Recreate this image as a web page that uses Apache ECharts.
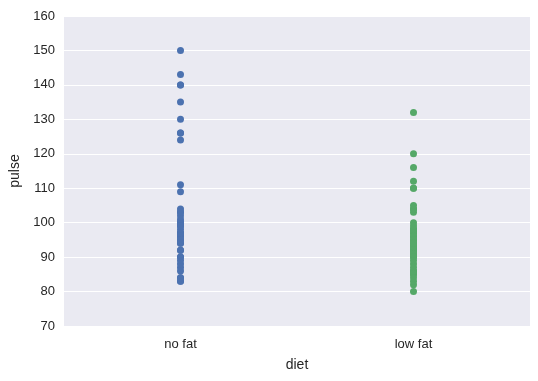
<!DOCTYPE html>
<html>
<head>
<meta charset="utf-8">
<script src="https://cdn.jsdelivr.net/npm/echarts@6/dist/echarts.min.js"></script>
<style>html,body{margin:0;padding:0;background:#fff}#c{width:538px;height:381px}</style>
</head>
<body>
<div id="c"></div>
<script>
var categories = ['no fat', 'low fat'];
var noFatPulse = [83,83,84,87,88,90,92,94,95,97,99,96,100,97,100,
                  84,86,89,103,109,90,92,96,101,97,98,100,100,102,104,
                  95,126,143,100,126,140,103,124,140,94,135,130,99,111,150];
var lowFatPulse = [85,85,88,90,92,93,97,97,94,80,82,83,91,92,91,
                   86,86,84,93,103,104,90,92,93,95,96,100,89,96,95,
                   93,98,110,98,104,112,98,105,99,87,132,120,94,110,116];
var yTicks = {min: 70, max: 160, interval: 10};

var font = 'Liberation Sans, Arial, sans-serif';
var chart = echarts.init(document.getElementById('c'), null, {renderer: 'canvas'});
chart.setOption({
  animation: false,
  backgroundColor: '#ffffff',
  grid: {left: 64, top: 16, right: 8, bottom: 55, show: true, backgroundColor: '#EAEAF2', borderWidth: 0},
  xAxis: {
    type: 'category', data: categories, boundaryGap: true,
    name: 'diet', nameLocation: 'middle', nameGap: 32,
    nameTextStyle: {color: '#262626', fontSize: 14, fontFamily: font},
    axisLine: {show: false}, axisTick: {show: false},
    axisLabel: {color: '#262626', fontSize: 13, fontFamily: font, margin: 12},
    splitLine: {show: false}
  },
  yAxis: {
    type: 'value', min: yTicks.min, max: yTicks.max, interval: yTicks.interval,
    name: 'pulse', nameLocation: 'middle', nameGap: 38,
    nameTextStyle: {color: '#262626', fontSize: 14, fontFamily: font},
    axisLine: {show: false}, axisTick: {show: false},
    axisLabel: {color: '#262626', fontSize: 13, fontFamily: font, margin: 9},
    splitLine: {show: true, lineStyle: {color: '#ffffff', width: 1}}
  },
  series: [
    {type: 'scatter', symbolSize: 7, itemStyle: {color: '#4C72B0', opacity: 1},
     data: noFatPulse.map(function (v) { return [categories[0], v]; })},
    {type: 'scatter', symbolSize: 7, itemStyle: {color: '#55A868', opacity: 1},
     data: lowFatPulse.map(function (v) { return [categories[1], v]; })}
  ]
});
</script>
</body>
</html>
